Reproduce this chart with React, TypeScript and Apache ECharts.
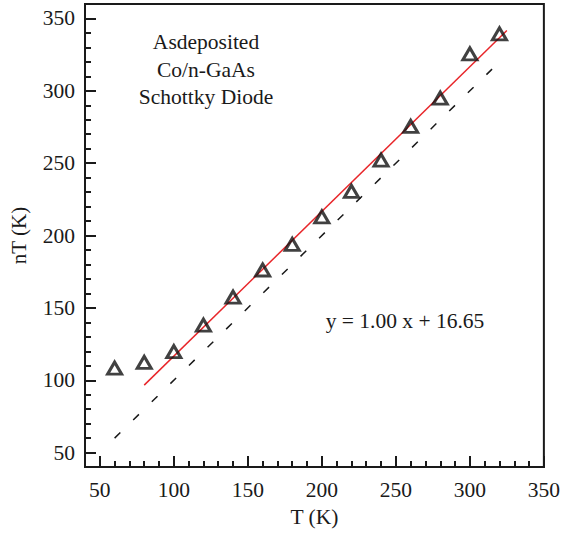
import React, { useEffect, useRef } from "react";
import * as echarts from "echarts";

const temperatures = [60, 80, 100, 120, 140, 160, 180, 200, 220, 240, 260, 280, 300, 320];
const nTValues = [108.4, 112.3, 119.8, 138.1, 157.5, 176.2, 193.9, 212.9, 230.5, 252.1, 275.4, 295.0, 325.6, 339.3];

const fitSlope = 1.0;
const fitIntercept = 16.65;
const fitRange = [80, 325];
const idealRange = [60, 315];

const xMajorTicks = [50, 100, 150, 200, 250, 300, 350];
const xMinorTicks = [60, 70, 80, 90, 110, 120, 130, 140, 160, 170, 180, 190, 210, 220, 230, 240, 260, 270, 280, 290, 310, 320, 330, 340];
const yMajorTicks = [50, 100, 150, 200, 250, 300, 350];
const yMinorTicks = [60, 70, 80, 90, 110, 120, 130, 140, 160, 170, 180, 190, 210, 220, 230, 240, 260, 270, 280, 290, 310, 320, 330, 340];

const annotationLines = ["Asdeposited", "Co/n-GaAs", "Schottky Diode"];
const equationText = "y = 1.00 x + 16.65";

const FONT = "'Liberation Serif', 'Times New Roman', serif";
const INK = "#1a1a1a";

export default function App() {
  const ref = useRef<HTMLDivElement>(null);

  useEffect(() => {
    if (!ref.current) return;
    const chart = echarts.init(ref.current, null, { renderer: "svg" });

    const axisBase = (min: number, max: number) => ({
      type: "value" as const,
      min,
      max,
      splitLine: { show: false },
      axisLine: { show: true, onZero: false, lineStyle: { color: INK, width: 2 } },
    });

    const option: any = {
      animation: false,
      backgroundColor: "#ffffff",
      grid: {
        left: 83,
        right: 14,
        top: 4,
        bottom: 61,
        show: true,
        borderColor: INK,
        borderWidth: 2,
        backgroundColor: "transparent",
      },
      xAxis: [
        {
          ...axisBase(40, 350),
          position: "bottom",
          name: "T (K)",
          nameLocation: "middle",
          nameGap: 37,
          nameTextStyle: { fontFamily: FONT, fontSize: 21.5, color: INK },
          axisTick: { show: true, inside: true, length: 11, customValues: xMajorTicks, lineStyle: { color: INK, width: 2 } },
          axisLabel: { show: true, customValues: xMajorTicks, margin: 12, fontFamily: FONT, fontSize: 21.5, color: INK },
        },
        {
          ...axisBase(40, 350),
          position: "bottom",
          axisTick: { show: true, inside: true, length: 6, customValues: xMinorTicks, lineStyle: { color: INK, width: 2 } },
          axisLabel: { show: false },
        },
      ],
      yAxis: [
        {
          ...axisBase(40, 360),
          position: "left",
          name: "nT (K)",
          nameLocation: "middle",
          nameGap: 56,
          nameRotate: 90,
          nameTextStyle: { fontFamily: FONT, fontSize: 21, color: INK },
          axisTick: { show: true, inside: true, length: 11, customValues: yMajorTicks, lineStyle: { color: INK, width: 2 } },
          axisLabel: { show: true, customValues: yMajorTicks, margin: 10, fontFamily: FONT, fontSize: 21.5, color: INK },
        },
        {
          ...axisBase(40, 360),
          position: "left",
          axisTick: { show: true, inside: true, length: 6, customValues: yMinorTicks, lineStyle: { color: INK, width: 2 } },
          axisLabel: { show: false },
        },
      ],
      series: [
        {
          type: "line",
          name: "ideal",
          xAxisIndex: 0,
          yAxisIndex: 0,
          data: idealRange.map((x) => [x, x]),
          symbol: "none",
          lineStyle: { color: INK, width: 1.5, type: [8, 18] },
          silent: true,
          z: 2,
        },
        {
          type: "line",
          name: "fit",
          xAxisIndex: 0,
          yAxisIndex: 0,
          data: fitRange.map((x) => [x, fitSlope * x + fitIntercept]),
          symbol: "none",
          lineStyle: { color: "#e8262a", width: 1.5 },
          silent: true,
          z: 3,
        },
        {
          type: "scatter",
          name: "nT",
          xAxisIndex: 0,
          yAxisIndex: 0,
          data: temperatures.map((t, i) => [t, nTValues[i]]),
          symbol: "triangle",
          symbolSize: [14, 12],
          itemStyle: { color: "rgba(255,255,255,0)", borderColor: "#111111", borderWidth: 3 },
          z: 4,
        },
      ],
      graphic: [
        ...annotationLines.map((line, i) => ({
          type: "text",
          x: 206,
          y: 42 + i * 27.5,
          style: {
            text: line,
            fontFamily: FONT,
            fontSize: 21.5,
            fill: INK,
            textAlign: "center",
            textVerticalAlign: "middle",
          },
        })),
        {
          type: "text",
          x: 405,
          y: 321,
          style: {
            text: equationText,
            fontFamily: FONT,
            fontSize: 21.5,
            fill: INK,
            textAlign: "center",
            textVerticalAlign: "middle",
          },
        },
      ],
    };

    chart.setOption(option);
    return () => chart.dispose();
  }, []);

  return (
    <div
      ref={ref}
      style={{ position: "absolute", left: 0, top: 0, width: 563, height: 533, background: "#fff" }}
    />
  );
}
